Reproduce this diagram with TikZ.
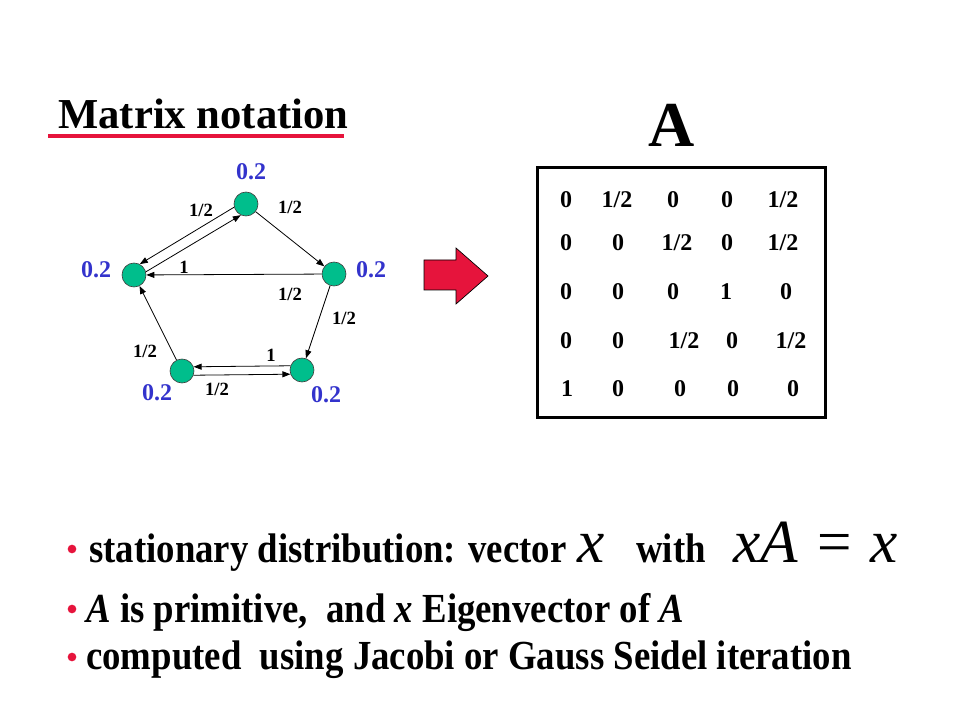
\documentclass[tikz,border=0pt]{standalone}
\usepackage{fontspec}
\setmainfont{Liberation Serif}
\newfontfamily\narrowfont[FakeStretch=0.89]{Liberation Serif}
\usetikzlibrary{arrows.meta}

\definecolor{slidered}{RGB}{230,20,60}
\definecolor{sitegreen}{RGB}{0,190,140}
\definecolor{probblue}{RGB}{51,51,204}

\newcommand{\half}{1/2}

\tikzstyle{site} = [circle, draw=black!75, fill=sitegreen, line width=0.5pt,
  minimum size=18pt, inner sep=0pt]
\tikzstyle{prob} = [text=probblue, font=\bfseries\fontsize{18}{20}\selectfont,
  inner sep=0pt]
\tikzstyle{weight} = [font=\bfseries\fontsize{14}{16}\selectfont, inner sep=0pt,
  text depth=0pt]
\tikzstyle{link} = [-{Triangle[length=6pt,width=4.5pt]}, line width=0.6pt]
\tikzstyle{entry} = [font=\bfseries\fontsize{18}{20}\selectfont, inner sep=0pt,
  anchor=base]
\tikzstyle{bullet} = [circle, fill=slidered, minimum size=6.5pt, inner sep=0pt]
\tikzstyle{item} = [font=\narrowfont\bfseries\fontsize{31}{34}\selectfont,
  anchor=base west, inner sep=0pt]
\tikzstyle{bigmath} = [font=\rmfamily\itshape\fontsize{46}{50}\selectfont,
  anchor=base west, inner sep=0pt]

\begin{document}
\begin{tikzpicture}[x=0.75pt, y=-0.75pt]
        \useasboundingbox (0,0) rectangle (960,720);

        % heading
        \node [anchor=base west, inner sep=0pt, font=\bfseries\fontsize{32}{36}\selectfont]
              (title) at (58,129) {Matrix notation};
        \draw [slidered, line width=3pt] (48,136) -- (344,136);

        % graph
        \node [site] (site1) at (246,204) {};
        \node [site] (site2) at (334,274) {};
        \node [site] (site3) at (302,370) {};
        \node [site] (site4) at (182,371) {};
        \node [site] (site5) at (134,275) {};

        \node [prob] (prob1) at (251,172) {0.2};
        \node [prob] (prob2) at (371,270) {0.2};
        \node [prob] (prob3) at (326,395) {0.2};
        \node [prob] (prob4) at (157,393) {0.2};
        \node [prob] (prob5) at ( 96,270) {0.2};

        \draw [link] (site1) -- (site2);
        \draw [link] (site2) -- (site5);
        \draw [link] (site2) -- (site3);
        \draw [link] (site4) -- (site5);
        \draw [link] (site3.160) -- (site4.20);
        \draw [link] (site4.-20) -- (site3.200);
        \draw [link] (site1.195) -- (site5.62);
        \draw [link] (site5.15) -- (site1.245);

        \node [weight] (w15) at (201,210) {1/2};
        \node [weight] (w12) at (290,207) {1/2};
        \node [weight] (w51) at (184,267) {1};
        \node [weight] (w25) at (290,294) {1/2};
        \node [weight] (w23) at (344,318) {1/2};
        \node [weight] (w45) at (145,351) {1/2};
        \node [weight] (w34) at (271,355) {1};
        \node [weight] (w43) at (217,389) {1/2};

        % red arrow
        \draw [fill=slidered, line width=0.5pt] (424,260) -- (456,260) -- (456,248)
              -- (488,276) -- (456,304) -- (456,290) -- (424,290) -- cycle;

        % matrix
        \node [anchor=base, inner sep=0pt, font=\bfseries\fontsize{48}{52}\selectfont]
              (matname) at (672,147) {A};
        \draw [line width=2.25pt] (537,168) rectangle (825,417);
        \foreach \t/\x [count=\c] in {0/566, \half/617, 0/673, 0/727, \half/783}
          \node [entry] (m1\c) at (\x,208) {\t};
        \foreach \t/\x [count=\c] in {0/566, 0/618, \half/677, 0/727, \half/783}
          \node [entry] (m2\c) at (\x,251) {\t};
        \foreach \t/\x [count=\c] in {0/566, 0/618, 0/673, 1/726, 0/786}
          \node [entry] (m3\c) at (\x,300) {\t};
        \foreach \t/\x [count=\c] in {0/566, 0/618, \half/684, 0/732, \half/791}
          \node [entry] (m4\c) at (\x,348) {\t};
        \foreach \t/\x [count=\c] in {1/567, 0/618, 0/680, 0/733, 0/793}
          \node [entry] (m5\c) at (\x,396) {\t};

        % bullets
        \node [bullet] (dot1) at (72,549) {};
        \node [bullet] (dot2) at (72,609) {};
        \node [bullet] (dot3) at (72,657) {};

        \node [item] (line1) at (89,562) {stationary distribution: vector};
        \node [bigmath] (vecx) at (577,562) {x};
        \node [item] (with) at (636,562) {with};
        \node [bigmath] (eqn) at (733,562) {xA = x};
        \node [item] (line2) at (86,622)
              {\textit{A} is primitive,\ \ and \textit{x} Eigenvector of \textit{A}};
        \node [item] (line3) at (86,669)
              {computed\ \ using Jacobi or Gauss Seidel iteration};
\end{tikzpicture}
\end{document}
